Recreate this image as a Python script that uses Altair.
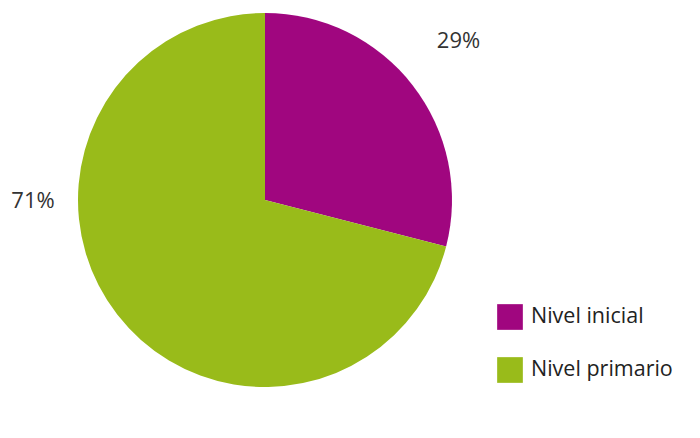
import altair as alt
import pandas as pd

categories = ["Nivel inicial", "Nivel primario"]
values = [29, 71]
labels = ["29%", "71%"]
colors = ["#A0067F", "#99BB1A"]

df = pd.DataFrame({"cat": categories, "val": values, "lab": labels, "ord": [0, 1]})

FONT = "Open Sans"

pie = alt.Chart(df).mark_arc(radius=187, stroke=None).encode(
    theta=alt.Theta("val:Q", stack=True),
    order=alt.Order("ord:Q"),
    color=alt.Color(
        "cat:N",
        scale=alt.Scale(domain=categories, range=colors),
        legend=alt.Legend(
            title=None,
            orient="none",
            legendX=489,
            legendY=296,
            symbolType="square",
            symbolSize=660,
            symbolStrokeWidth=0,
            labelFontSize=21.5,
            labelFont=FONT,
            labelColor="#222222",
            labelOffset=8,
            rowPadding=27,
            padding=0,
        ),
    ),
    x=alt.value(257),
    y=alt.value(192),
)

t1 = alt.Chart(df[df.cat == categories[0]]).mark_text(
    font=FONT, fontSize=22, color="#333333"
).encode(text="lab:N", x=alt.value(450.5), y=alt.value(33))

t2 = alt.Chart(df[df.cat == categories[1]]).mark_text(
    font=FONT, fontSize=22, color="#333333"
).encode(text="lab:N", x=alt.value(25), y=alt.value(193))

chart = alt.layer(pie, t1, t2).properties(
    width=684, height=422, padding=0, autosize="none"
).configure_view(stroke=None)

chart.save("out.html", embed_options={"renderer": "svg", "actions": False})
